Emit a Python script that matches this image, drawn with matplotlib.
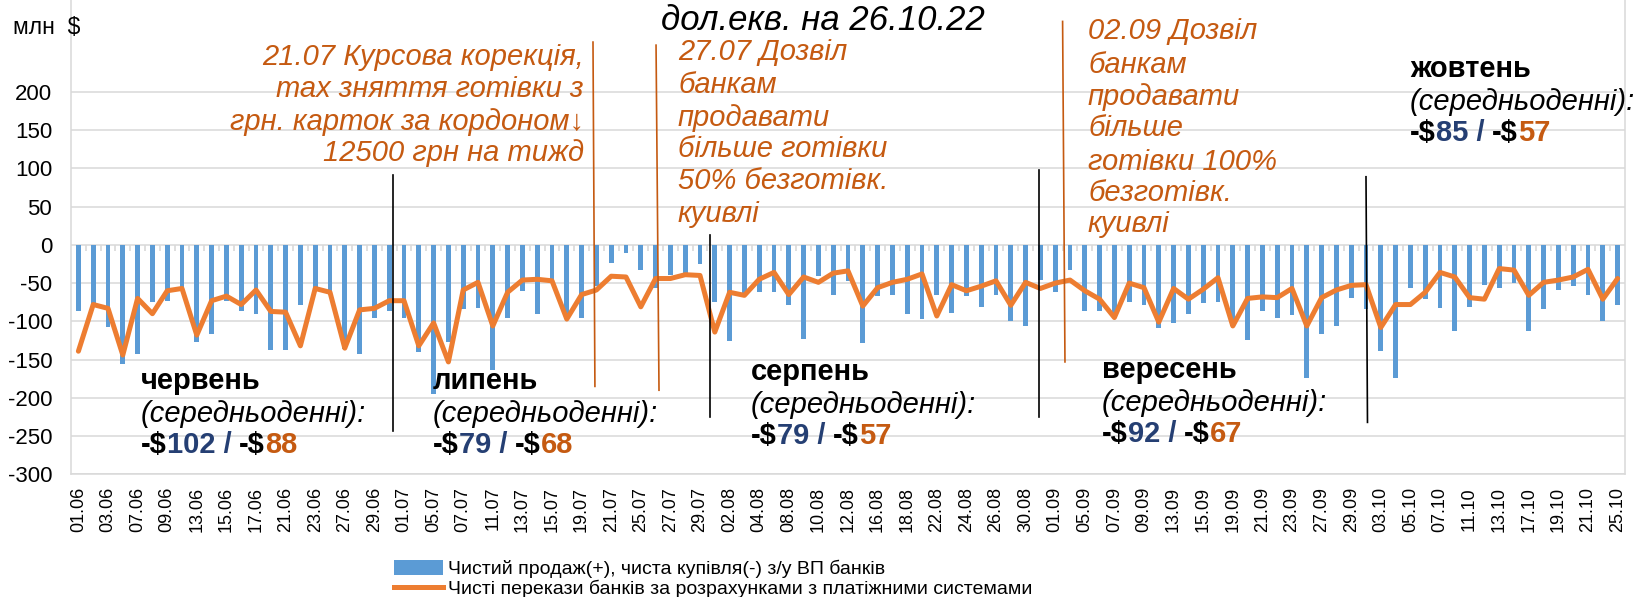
import numpy as np
import matplotlib
matplotlib.use("Agg")
import matplotlib.pyplot as plt
from matplotlib.patches import Patch
from matplotlib.lines import Line2D

plt.rcParams['font.family'] = ['Liberation Sans', 'DejaVu Sans']
plt.rcParams['axes.unicode_minus'] = False

# ---------------- data ----------------
dates_jun = ["01.06", "02.06", "03.06", "06.06", "07.06", "08.06", "09.06", "10.06", "13.06", "14.06", "15.06",
             "16.06", "17.06", "20.06", "21.06", "22.06", "23.06", "24.06", "27.06", "28.06", "29.06", "30.06"]
dates_jul = ["01.07", "04.07", "05.07", "06.07", "07.07", "08.07", "11.07", "12.07", "13.07", "14.07", "15.07",
             "18.07", "19.07", "20.07", "21.07", "22.07", "25.07", "26.07", "27.07", "28.07", "29.07"]
dates_aug = ["01.08", "02.08", "03.08", "04.08", "05.08", "08.08", "09.08", "10.08", "11.08", "12.08", "15.08",
             "16.08", "17.08", "18.08", "19.08", "22.08", "23.08", "24.08", "25.08", "26.08", "29.08", "30.08", "31.08"]
dates_sep = ["01.09", "02.09", "05.09", "06.09", "07.09", "08.09", "09.09", "12.09", "13.09", "14.09", "15.09",
             "16.09", "19.09", "20.09", "21.09", "22.09", "23.09", "26.09", "27.09", "28.09", "29.09", "30.09"]
dates_oct = ["03.10", "04.10", "05.10", "06.10", "07.10", "10.10", "11.10", "12.10", "13.10", "14.10", "17.10",
             "18.10", "19.10", "20.10", "21.10", "24.10", "25.10"]

fx_jun = [-87, -78, -108, -156, -142, -75, -73, -58, -127, -116, -73, -87, -90, -138, -138, -79, -56, -65, -136, -143, -95, -86]
fx_jul = [-95, -140, -195, -127, -84, -82, -164, -95, -60, -90, -47, -97, -96, -54, -24, -10, -33, -56, -40, -37, -25]
fx_aug = [-75, -126, -67, -62, -62, -78, -123, -41, -65, -47, -128, -67, -65, -90, -97, -66, -89, -67, -81, -65, -100, -106, -46]
fx_sep = [-62, -33, -87, -86, -93, -75, -78, -109, -102, -90, -76, -75, -106, -124, -87, -96, -92, -174, -116, -106, -69, -84]
fx_oct = [-139, -174, -57, -71, -83, -113, -81, -52, -57, -50, -113, -84, -59, -54, -66, -99, -79]

ps_jun = [-139, -78, -83, -144, -70, -90, -60, -57, -118, -73, -67, -78, -59, -87, -88, -132, -57, -62, -135, -85, -83, -73]
ps_jul = [-73, -132, -102, -153, -59, -49, -106, -62, -46, -45, -47, -97, -65, -59, -41, -42, -81, -44, -44, -39, -40]
ps_aug = [-114, -62, -66, -45, -36, -65, -42, -49, -37, -34, -80, -56, -49, -45, -38, -93, -52, -60, -54, -47, -79, -49, -57]
ps_sep = [-50, -46, -60, -71, -95, -50, -56, -101, -57, -71, -58, -43, -106, -70, -68, -69, -57, -106, -69, -59, -53, -52]
ps_oct = [-108, -78, -78, -62, -36, -42, -69, -71, -31, -33, -66, -49, -46, -42, -32, -71, -44]

month_names = ["червень", "липень", "серпень", "вересень", "жовтень"]
avg_fx = [102, 79, 79, 92, 85]
avg_ps = [88, 68, 57, 67, 57]

legend_bar = "Чистий продаж(+), чиста купівля(-) з/у ВП банків"
legend_line = "Чисті перекази банків за розрахунками з платіжними системами"

dates = dates_jun + dates_jul + dates_aug + dates_sep + dates_oct
fx_net = fx_jun + fx_jul + fx_aug + fx_sep + fx_oct
ps_net = ps_jun + ps_jul + ps_aug + ps_sep + ps_oct

# ---------------- figure ----------------
W, H = 1635, 597
fig = plt.figure(figsize=(W / 100, H / 100), dpi=100)
fig.patch.set_facecolor("white")

ax_bottom = 474.4
ax = fig.add_axes([71 / W, (H - ax_bottom) / H, (1625 - 71) / W, ax_bottom / H])
x = np.arange(len(dates))

GRID = "#D9D9D9"
ax.set_xlim(-0.5, len(dates) - 0.5)
ax.set_ylim(-300, 320)
ax.set_yticks(np.arange(-300, 201, 50))
ax.yaxis.grid(True, color=GRID, lw=1.1, zorder=0)
ax.set_axisbelow(True)
for s in ["left", "right", "bottom"]:
    ax.spines[s].set_color(GRID)
    ax.spines[s].set_linewidth(1.1)
ax.spines["top"].set_visible(False)

ax.vlines(x[:-1] + 0.5, -7.5, 0, color=GRID, lw=1.2, zorder=1)
ax.bar(x, fx_net, width=0.32, color="#5B9BD5", zorder=2)
ax.plot(x, ps_net, color="#ED7D31", lw=3.6, zorder=3, solid_joinstyle="round", solid_capstyle="round")

ax.set_xticks(x[::2])
ax.set_xticklabels(dates[::2], rotation=90, fontsize=13)
ax.tick_params(axis="x", length=0, pad=9)
ax.tick_params(axis="y", length=0, pad=13.5, labelsize=16)

# month separators (black) and event lines (orange)
sep_lines = [((21.25, 91), (21.25, -243)), ((42.65, 13), (42.65, -225)),
             ((64.9, 98), (64.9, -225)), ((87.0, 89), (87.1, -232))]
for (x0, y0), (x1, y1) in sep_lines:
    ax.plot([x0, x1], [y0, y1], color="black", lw=1.2, zorder=4, clip_on=False)
ev_lines = [((34.77, 265), (34.9, -185)), ((39.03, 261), (39.23, -190)), ((66.5, 292), (66.66, -153))]
ORG = "#C55A11"
for (x0, y0), (x1, y1) in ev_lines:
    ax.plot([x0, x1], [y0, y1], color=ORG, lw=1.2, zorder=4, clip_on=False)


def ftext(px, py, s, **kw):
    return fig.text(px / W, 1 - py / H, s, **kw)


FS = 21
# title + unit
ftext(823, 21, "дол.екв. на 26.10.22", fontsize=25, style="italic", ha="center", va="center")
ftext(13, 28, "млн  $", fontsize=16.5, ha="left", va="center")

# event annotations
ann1 = ["21.07 Курсова корекція,", "тах зняття готівки з", "грн. карток за кордоном↓", "12500 грн на тижд"]
for s, py in zip(ann1, [57, 89, 122, 153]):
    ftext(584, py, s, fontsize=FS, style="italic", color=ORG, ha="right", va="center")
ann2 = ["27.07 Дозвіл", "банкам", "продавати", "більше готівки", "50% безготівк.", "куивлі"]
for s, py in zip(ann2, [52, 85, 118, 149, 181, 214]):
    ftext(678, py, s, fontsize=FS, style="italic", color=ORG, ha="left", va="center")
ann3 = ["02.09 Дозвіл", "банкам", "продавати", "більше", "готівки 100%", "безготівк.", "куивлі"]
for s, py in zip(ann3, [31, 65, 97, 128, 162, 193, 224]):
    ftext(1088, py, s, fontsize=FS, style="italic", color=ORG, ha="left", va="center")

# monthly averages
BLUE = "#253F73"
month_pos = [(141, 381), (433, 381), (751, 372), (1102, 370), (1410, 69)]
for name, a_fx, a_ps, (px, py) in zip(month_names, avg_fx, avg_ps, month_pos):
    ftext(px, py, name, fontsize=FS, fontweight="bold", ha="left", va="center")
    ftext(px, py + 33, "(середньоденні):", fontsize=FS, style="italic", ha="left", va="center")
    t1 = ftext(px, py + 64, "-$", fontsize=FS, fontweight="bold", color="black", ha="left", va="center")
    t2 = ax.annotate(f"{a_fx} /", xy=(1, 0), xycoords=t1, xytext=(0, 0), textcoords="offset points",
                     fontsize=FS, fontweight="bold", color=BLUE, ha="left", va="bottom", annotation_clip=False)
    t3 = ax.annotate("-$", xy=(1, 0), xycoords=t2, xytext=(5.5, 0), textcoords="offset points",
                     fontsize=FS, fontweight="bold", color="black", ha="left", va="bottom", annotation_clip=False)
    ax.annotate(f"{a_ps}", xy=(1, 0), xycoords=t3, xytext=(0, 0), textcoords="offset points",
                fontsize=FS, fontweight="bold", color=ORG, ha="left", va="bottom", annotation_clip=False)

# legend
handles = [Patch(facecolor="#5B9BD5", edgecolor="none"), Line2D([0], [0], color="#ED7D31", lw=3.6)]
fig.legend(handles, [legend_bar, legend_line], loc="center left",
           bbox_to_anchor=(394 / W, 1 - 579 / H), frameon=False, fontsize=14,
           handlelength=2.5, handleheight=0.8, handletextpad=0.3, labelspacing=0.1,
           borderpad=0, borderaxespad=0)

fig.savefig("out.png", dpi=100, facecolor="white")
